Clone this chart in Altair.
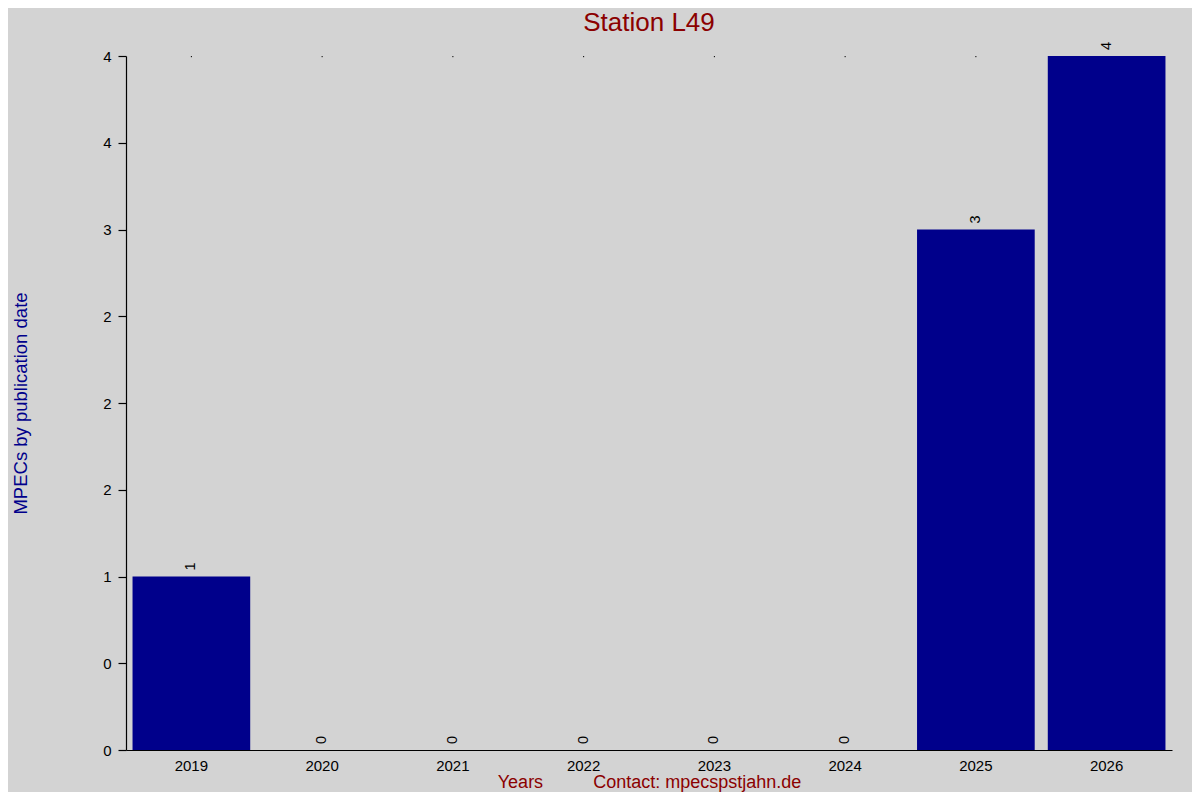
import altair as alt
import pandas as pd

years = ["2019", "2020", "2021", "2022", "2023", "2024", "2025", "2026"]
counts = [1, 0, 0, 0, 0, 0, 3, 4]
y_ticks = [0, 0.5, 1, 1.5, 2, 2.5, 3, 3.5, 4]
y_tick_labels = ["0", "0", "1", "2", "2", "2", "3", "4", "4"]

df = pd.DataFrame({"year": years, "count": counts})

FONT = "Liberation Sans"
label_expr = "[" + ",".join("'" + s + "'" for s in y_tick_labels) + "][round(datum.value*2)]"

x_scale = alt.Scale(paddingInner=0.1, paddingOuter=0.05)
y_scale = alt.Scale(domain=[0, 4], nice=False)

x_axis = alt.Axis(
    title="Years" + "\u00a0" * 10 + "Contact: mpecspstjahn.de",
    titleColor="#8B0000",
    titleFont=FONT,
    titleFontSize=18,
    titleFontWeight="normal",
    titlePadding=0,
    labelAngle=0,
    labelAlign="center",
    labelBaseline="top",
    labelFont=FONT,
    labelFontSize=15,
    labelColor="black",
    labelPadding=8,
    ticks=False,
    domainColor="black",
    domainWidth=1.2,
    grid=False,
)

y_axis = alt.Axis(
    title="MPECs by publication date",
    titleColor="#00008B",
    titleFont=FONT,
    titleFontSize=18.5,
    titleFontWeight="normal",
    titleAngle=270,
    titleX=-106,
    titleY=347,
    titleAlign="center",
    titleBaseline="middle",
    values=y_ticks,
    labelExpr=label_expr,
    labelFont=FONT,
    labelFontSize=15,
    labelColor="black",
    labelPadding=7,
    tickSize=8,
    tickColor="black",
    tickWidth=1.2,
    domainColor="black",
    domainWidth=1.2,
    grid=False,
)


def xe():
    return alt.X("year:N", sort=years, scale=x_scale, axis=x_axis)


def ye():
    return alt.Y("count:Q", scale=y_scale, axis=y_axis)


bars = alt.Chart(df).mark_bar(color="#00008B").encode(x=xe(), y=ye())

dots = alt.Chart(df).mark_rule(color="black", strokeWidth=1).encode(
    x=xe(),
    y=alt.value(0),
    y2=alt.value(1.2),
)

labels = alt.Chart(df).mark_text(
    angle=270, align="left", baseline="middle", dx=6, font=FONT, fontSize=14.5, color="black"
).encode(
    x=xe(),
    y=ye(),
    text=alt.Text("count:Q"),
)

chart = (
    alt.layer(dots, bars, labels)
    .properties(
        width=1046,
        height=694,
        background="#D3D3D3",
        autosize=alt.AutoSizeParams(type="none"),
        padding={"left": 118, "top": 48, "right": 20, "bottom": 42},
        title=alt.TitleParams(
            "Station L49",
            color="#8B0000",
            font=FONT,
            fontSize=26,
            fontWeight="normal",
            anchor="middle",
            offset=6,
        ),
    )
    .configure_view(stroke=None)
)

chart.save("out.html", embed_options={"renderer": "svg", "actions": False})
